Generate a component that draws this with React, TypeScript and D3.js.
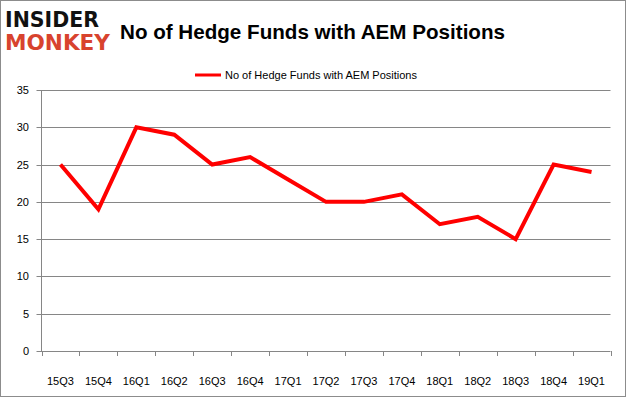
import React from "react";
import * as d3 from "d3";

const categories = ["15Q3","15Q4","16Q1","16Q2","16Q3","16Q4","17Q1","17Q2","17Q3","17Q4","18Q1","18Q2","18Q3","18Q4","19Q1"];
const values = [25,19,30,29,25,26,23,20,20,21,17,18,15,25,24];
const yTicks = [0,5,10,15,20,25,30,35];
const title = "No of Hedge Funds with AEM Positions";
const seriesName = "No of Hedge Funds with AEM Positions";

const W = 626, H = 397;
const left = 41.5, right = 610.5, top = 90, bottom = 351;
const font = "'Liberation Sans', Arial, sans-serif";

export default function App() {
  const x = d3.scaleBand().domain(categories).range([left, right]);
  const y = d3.scaleLinear().domain([0, 35]).range([bottom, top]);
  const line = d3.line<number>()
    .x((_, i) => (x(categories[i]) as number) + x.bandwidth() / 2)
    .y((d) => y(d));
  const tickXs = categories.map((c) => x(c) as number).concat([right]);
  return (
    <svg width={W} height={H} style={{ position: "absolute", left: 0, top: 0, background: "#fff" }}>
      <rect x={0.5} y={0.5} width={W - 1} height={H - 1} fill="#fff" stroke="#8c8c8c" />
      {/* logo */}
      <text x={5} y={27} fontFamily="'DejaVu Sans', sans-serif" fontWeight={900} fontSize={22} fill="#111" textLength={94} lengthAdjust="spacingAndGlyphs">INSIDER</text>
      <text x={5} y={50} fontFamily="'DejaVu Sans', sans-serif" fontWeight={900} fontSize={22} fill="#d8432e" textLength={105} lengthAdjust="spacingAndGlyphs">MONKEY</text>
      <text x={120} y={39} fontFamily={font} fontWeight="bold" fontSize={21} fill="#000" textLength={385} lengthAdjust="spacingAndGlyphs">{title}</text>
      {/* legend */}
      <line x1={195} x2={221} y1={75} y2={75} stroke="#ff0000" strokeWidth={3} />
      <text x={225} y={79} fontFamily={font} fontSize={11} fill="#000">{seriesName}</text>
      {/* gridlines */}
      {yTicks.map((t) => (
        <g key={t}>
          <line x1={left - 5} x2={right} y1={Math.round(y(t)) + 0.5} y2={Math.round(y(t)) + 0.5} stroke="#868686" />
          <text x={29} y={y(t) + 4} textAnchor="end" fontFamily={font} fontSize={11} fill="#000">{t}</text>
        </g>
      ))}
      <line x1={left} x2={left} y1={top} y2={bottom} stroke="#868686" />
      {tickXs.map((tx, i) => (
        <line key={i} x1={Math.round(tx) + 0.5} x2={Math.round(tx) + 0.5} y1={bottom} y2={bottom + 5} stroke="#868686" />
      ))}
      {categories.map((c) => (
        <text key={c} x={(x(c) as number) + x.bandwidth() / 2} y={385} textAnchor="middle" fontFamily={font} fontSize={11} fill="#000">{c}</text>
      ))}
      <path d={line(values) || ""} fill="none" stroke="#ff0000" strokeWidth={4} strokeLinejoin="miter" />
    </svg>
  );
}
